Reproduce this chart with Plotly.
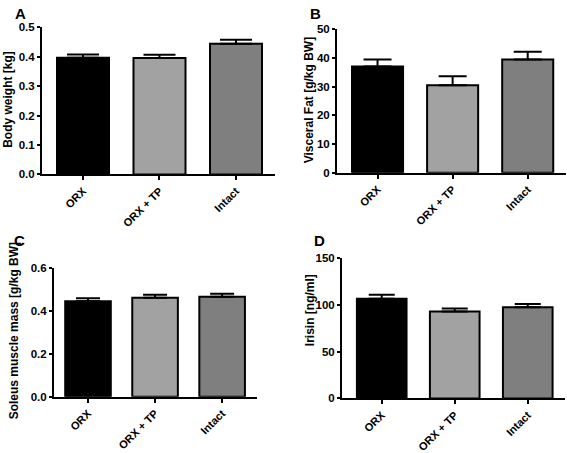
import plotly.graph_objects as go

W, H = 567, 453

categories = ["ORX", "ORX + TP", "Intact"]
bar_colors = ["#000000", "#a2a2a2", "#7f7f7f"]

body_weight_mean = [0.396, 0.395, 0.444]
body_weight_sem = [0.011, 0.011, 0.013]

visceral_fat_mean = [37.0, 30.5, 39.4]
visceral_fat_sem = [2.4, 3.1, 2.7]

soleus_mean = [0.447, 0.4635, 0.468]
soleus_sem = [0.0135, 0.0135, 0.0135]

irisin_mean = [106.5, 92.8, 97.3]
irisin_sem = [4.1, 3.1, 3.4]

panels = [
    dict(mean=body_weight_mean, sem=body_weight_sem, title="Body weight [kg]", letter="A",
         px_x=(42, 275), px_y=(22, 175), xr=(-0.536, 2.51), yr=(0, 0.5), dtick=0.1, fmt=".1f",
         cap=16, title_xy=(8.5, 97), letter_xy=(20, 8)),
    dict(mean=visceral_fat_mean, sem=visceral_fat_sem, title="Visceral Fat [g/kg BW]", letter="B",
         px_x=(337, 566), px_y=(24, 173.3), xr=(-0.54, 2.51), yr=(0, 50), dtick=10, fmt="d",
         cap=14, title_xy=(309, 98), letter_xy=(315, 8)),
    dict(mean=soleus_mean, sem=soleus_sem, title="Soleus muscle mass [g/kg BW]", letter="C",
         px_x=(54, 257), px_y=(272.7, 406), xr=(-0.507, 2.52), yr=(0, 0.6), dtick=0.2, fmt=".1f",
         cap=12, title_xy=(14, 338), letter_xy=(19.5, 244)),
    dict(mean=irisin_mean, sem=irisin_sem, title="Irisin [ng/ml]", letter="D",
         px_x=(342, 565), px_y=(261.7, 407.7), xr=(-0.544, 2.51), yr=(0, 150), dtick=50, fmt="d",
         cap=13, title_xy=(310, 316), letter_xy=(319, 244)),
]

FONT = "Liberation Sans, Arial, sans-serif"

fig = go.Figure()
layout = dict(
    width=W, height=H, margin=dict(l=0, r=0, t=0, b=0),
    paper_bgcolor="white", plot_bgcolor="white", showlegend=False,
    font=dict(family=FONT, color="black"),
    annotations=[],
)

for i, p in enumerate(panels, start=1):
    xa = "x" if i == 1 else f"x{i}"
    ya = "y" if i == 1 else f"y{i}"
    fig.add_trace(go.Bar(
        x=categories, y=p["mean"], xaxis=xa, yaxis=ya, width=0.68,
        marker=dict(color=bar_colors, line=dict(color="black", width=2)),
        error_y=dict(type="data", array=p["sem"], arrayminus=[0, 0, 0], symmetric=False,
                     color="black", thickness=2, width=p["cap"]),
    ))
    xkey = "xaxis" if i == 1 else f"xaxis{i}"
    ykey = "yaxis" if i == 1 else f"yaxis{i}"
    x0, x1 = p["px_x"]
    ytop, ybot = p["px_y"]
    layout[xkey] = dict(
        domain=[x0 / W, x1 / W], anchor=ya, type="category", range=list(p["xr"]),
        showline=True, linecolor="black", linewidth=2, showgrid=False, zeroline=False,
        ticks="outside", ticklen=4, tickwidth=2, tickcolor="black", tickangle=-45,
        tickfont=dict(family=FONT, size=11, color="black", weight="bold"),
    )
    layout[ykey] = dict(
        domain=[1 - ybot / H, 1 - ytop / H], anchor=xa, range=list(p["yr"]), dtick=p["dtick"],
        tickformat=p["fmt"], showline=True, linecolor="black", linewidth=2,
        showgrid=False, zeroline=False, ticks="outside", ticklen=3, tickwidth=2, tickcolor="black",
        tickfont=dict(family=FONT, size=11.5, color="black", weight="bold"),
    )
    tx, ty = p["title_xy"]
    layout["annotations"].append(dict(
        text=p["title"], x=tx / W, y=1 - ty / H, xref="paper", yref="paper",
        xanchor="center", yanchor="middle", textangle=-90, showarrow=False,
        font=dict(family=FONT, size=12, color="black", weight="bold"),
    ))
    lx, ly = p["letter_xy"]
    layout["annotations"].append(dict(
        text=p["letter"], x=lx / W, y=1 - ly / H, xref="paper", yref="paper",
        xanchor="center", yanchor="middle", showarrow=False,
        font=dict(family=FONT, size=15, color="black", weight="bold"),
    ))

fig.update_layout(**layout)
fig.write_html(
    "out.html",
    config={"displayModeBar": False},
    post_script="document.body.style.margin='0px';document.body.style.overflow='hidden';",
)
